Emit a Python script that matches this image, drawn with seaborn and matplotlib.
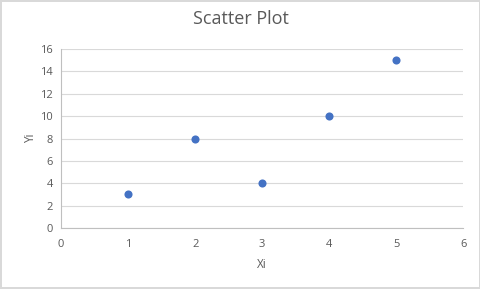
import matplotlib
matplotlib.use("Agg")
import matplotlib.pyplot as plt
import seaborn as sns
import pandas as pd

xi = [1, 2, 3, 4, 5]
yi = [3, 8, 4, 10, 15]
x_ticks = [0, 1, 2, 3, 4, 5, 6]
y_ticks = [0, 2, 4, 6, 8, 10, 12, 14, 16]

sns.set_style("white")
plt.rcParams['font.family'] = ['Open Sans', 'DejaVu Sans']
txt = "#595959"

df = pd.DataFrame({"Xi": xi, "Yi": yi})
fig = plt.figure(figsize=(4.81, 2.89), dpi=100)
fig.patch.set_edgecolor("#D9D9D9")
fig.patch.set_linewidth(1.5)
ax = fig.add_axes([0.127, 0.211, 0.836, 0.619])
sns.scatterplot(data=df, x="Xi", y="Yi", ax=ax, color="#4472C4", s=34,
                edgecolor="#4472C4", linewidth=0, zorder=3)
ax.set_xlim(0, 6)
ax.set_ylim(0, 16)
ax.set_xticks(x_ticks)
ax.set_yticks(y_ticks)
ax.yaxis.grid(True, color="#D9D9D9", linewidth=0.8)
ax.xaxis.grid(False)
for s in ["top", "right"]:
    ax.spines[s].set_visible(False)
for s in ["left", "bottom"]:
    ax.spines[s].set_color("#BFBFBF")
    ax.spines[s].set_linewidth(0.8)
ax.tick_params(axis="both", length=0, labelsize=8, colors=txt, pad=8)
ax.tick_params(axis="y", pad=6)
ax.set_xlabel("Xi", fontsize=8.5, color=txt, labelpad=6)
ax.set_ylabel("Yi", fontsize=8.5, color=txt, labelpad=2)
fig.suptitle("Scatter Plot", fontsize=13, color=txt, y=0.965)
fig.savefig("out.png", dpi=100, edgecolor=fig.get_edgecolor())
